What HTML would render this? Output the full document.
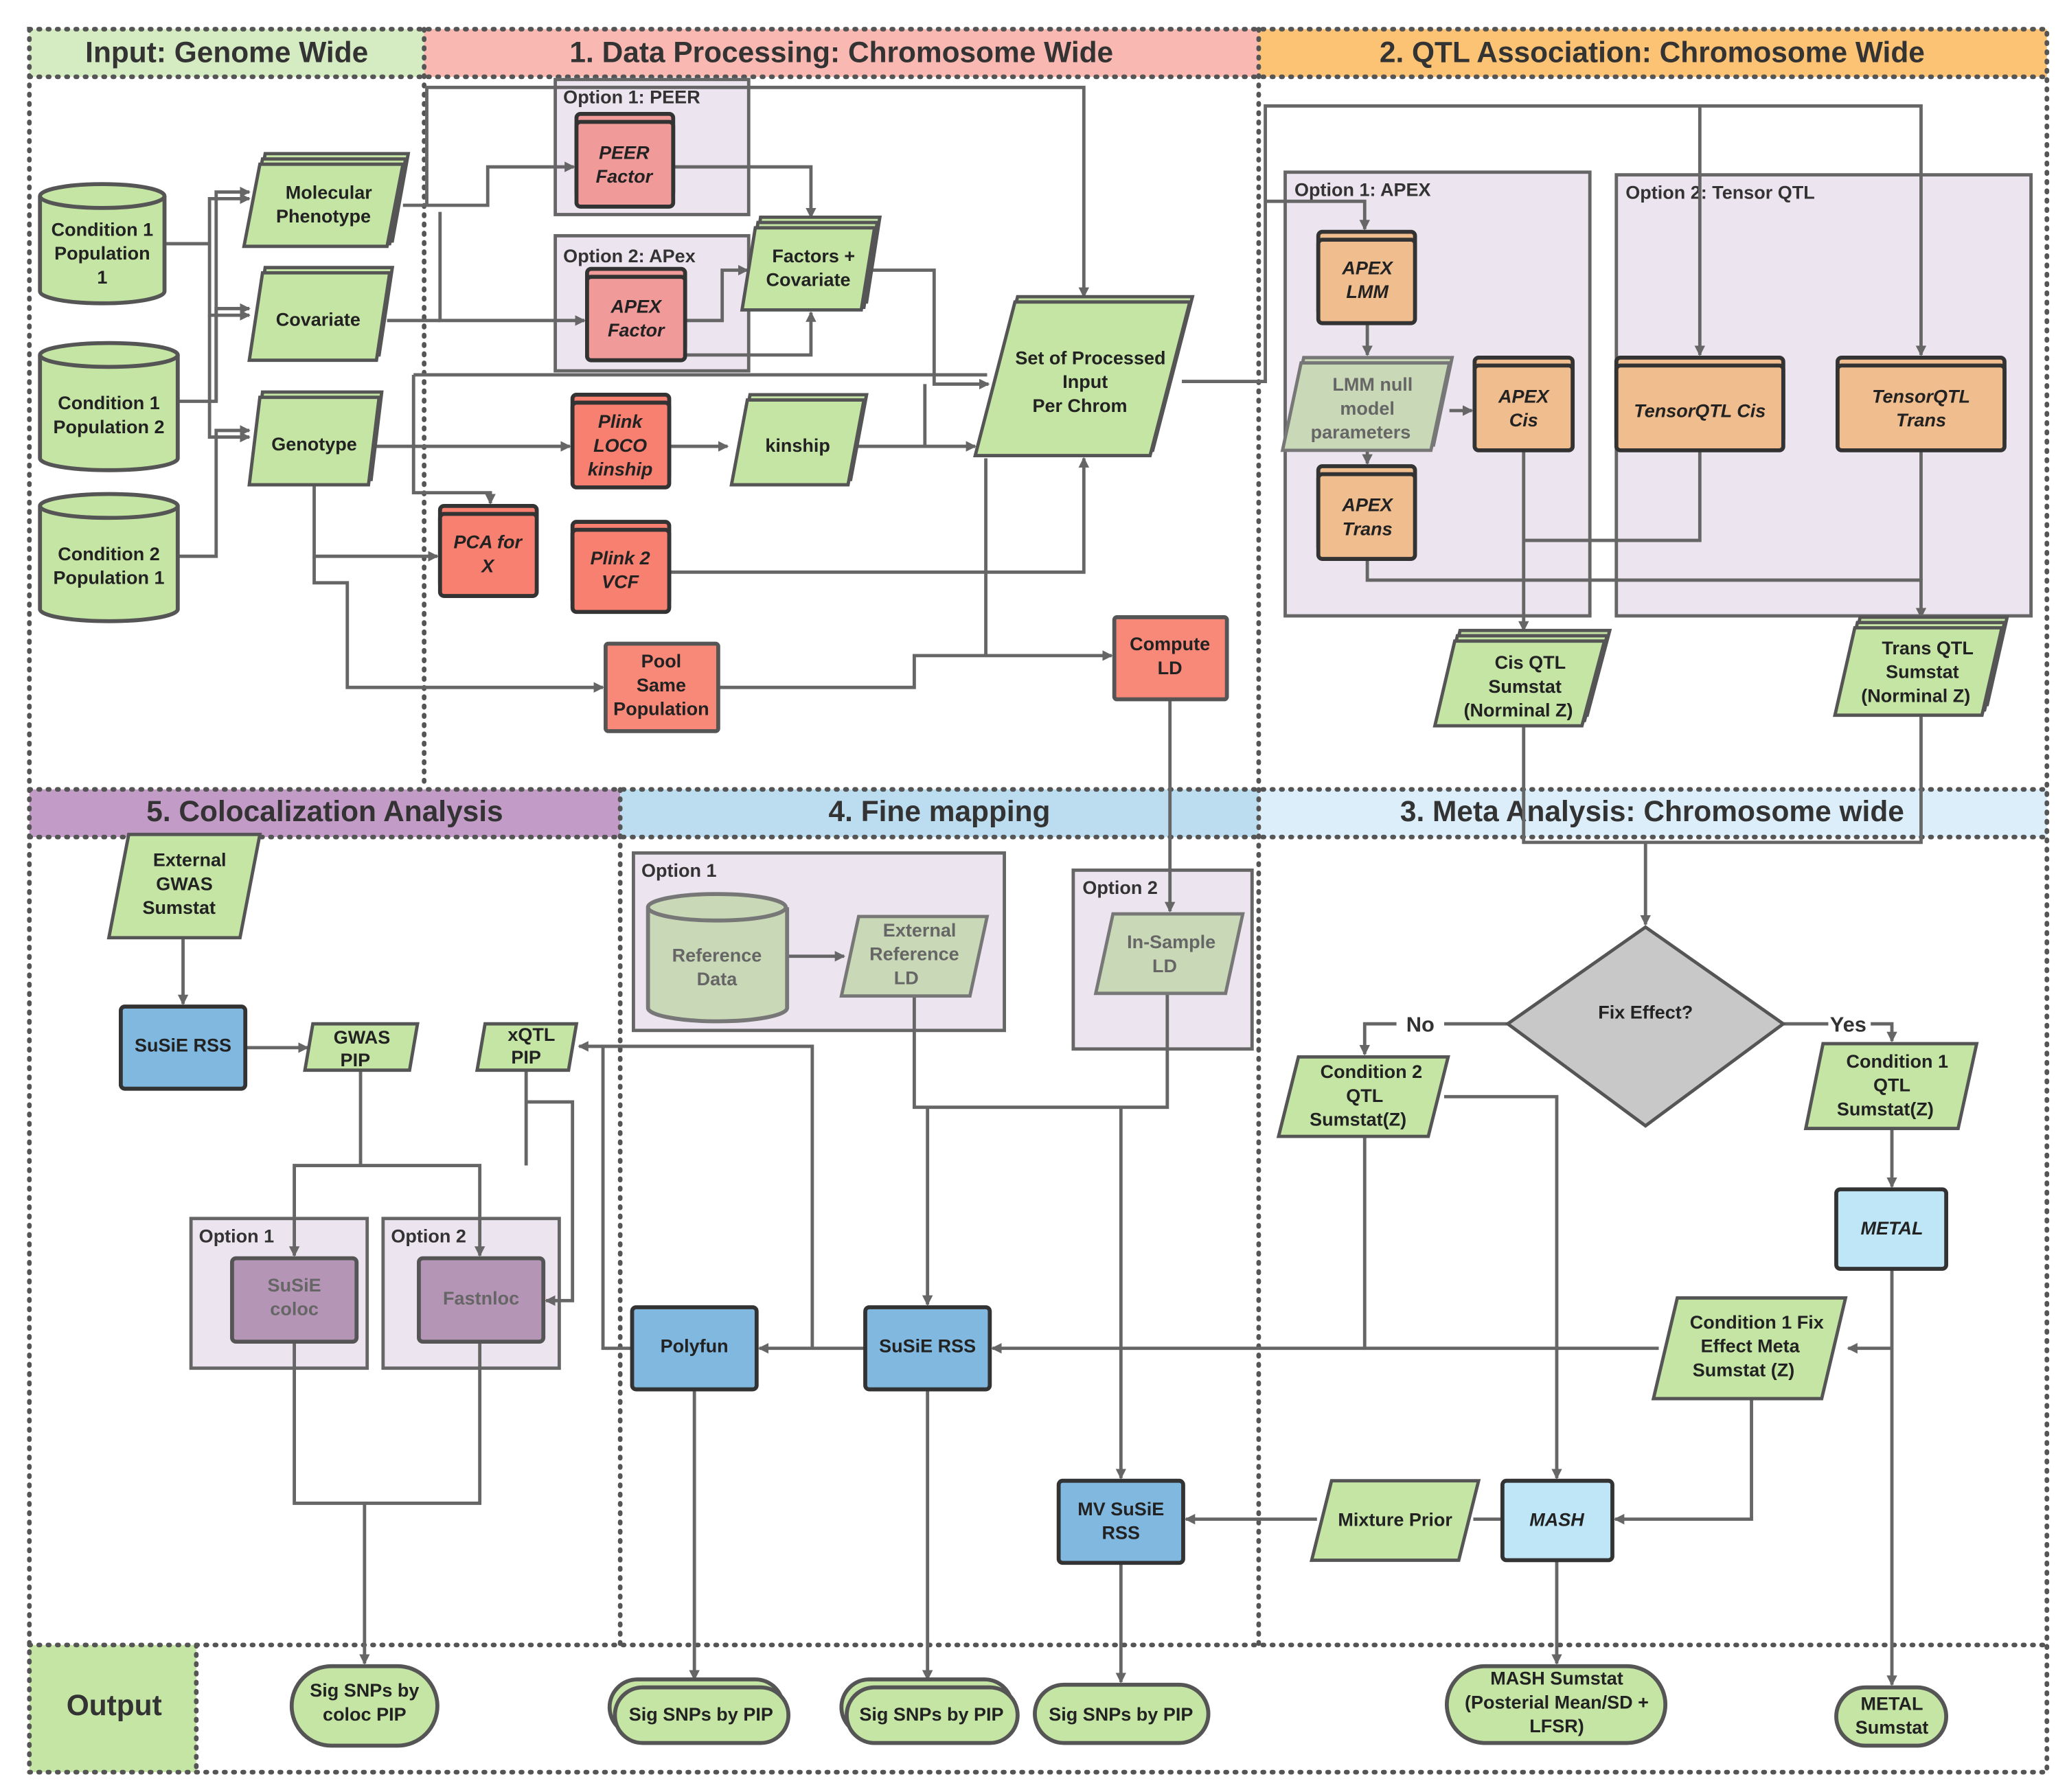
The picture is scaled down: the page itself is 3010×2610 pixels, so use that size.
<!DOCTYPE html>
<html><head><meta charset="utf-8"><style>html,body{margin:0;padding:0;background:#fff}svg{display:block}</style></head><body>
<svg xmlns="http://www.w3.org/2000/svg" width="3010" height="2610" viewBox="0 0 1560 1353" font-family="Liberation Sans, sans-serif" font-weight="bold">
<defs>
<marker id="a" markerWidth="8" markerHeight="8" refX="7" refY="4" orient="auto" markerUnits="userSpaceOnUse"><path d="M0,0 L8,4 L0,8 z" fill="#666"/></marker>
</defs>
<rect width="1560" height="1353" fill="#fff"/>
<!-- headers -->
<rect x="22" y="22" width="298" height="36" fill="#d5ecc2"/>
<rect x="320" y="22" width="630" height="36" fill="#f9b9b2"/>
<rect x="950" y="22" width="595" height="36" fill="#fdc374"/>
<rect x="22" y="596" width="446" height="36" fill="#c39bc7"/>
<rect x="468" y="596" width="482" height="36" fill="#bcdcf0"/>
<rect x="950" y="596" width="595" height="36" fill="#dbeef9"/>
<rect x="22" y="1242" width="126" height="96" fill="#c5e5a5"/>
<g font-size="22" fill="#333" text-anchor="middle">
<text x="171" y="47">Input: Genome Wide</text>
<text x="635" y="47">1. Data Processing: Chromosome Wide</text>
<text x="1247" y="47">2. QTL Association: Chromosome Wide</text>
<text x="245" y="620">5. Colocalization Analysis</text>
<text x="709" y="620">4. Fine mapping</text>
<text x="1247" y="620">3. Meta Analysis: Chromosome wide</text>
<text x="86" y="1295">Output</text>
</g>
<g fill="none" stroke="#555" stroke-width="3.5" stroke-dasharray="1 6" stroke-linecap="round">
<rect x="22" y="22" width="1523" height="1316"/>
<line x1="22" y1="58" x2="1545" y2="58"/>
<line x1="320" y1="22" x2="320" y2="590"/>
<line x1="950" y1="22" x2="950" y2="1242"/>
<line x1="22" y1="596" x2="1545" y2="596"/>
<line x1="22" y1="632" x2="1545" y2="632"/>
<line x1="468" y1="596" x2="468" y2="1242"/>
<line x1="22" y1="1242" x2="1545" y2="1242"/>
<line x1="148" y1="1242" x2="148" y2="1338"/>
</g>
<!-- option boxes -->
<g fill="#ece4ee" stroke="#666" stroke-width="2.5">
<rect x="419" y="60" width="146" height="102"/>
<rect x="419" y="178" width="146" height="102"/>
<rect x="970" y="130" width="230" height="335"/>
<rect x="1220" y="132" width="313" height="333"/>
<rect x="478" y="644" width="280" height="134"/>
<rect x="810" y="657" width="135" height="135"/>
<rect x="144" y="920" width="133" height="113"/>
<rect x="289" y="920" width="133" height="113"/>
</g>
<g font-size="14" fill="#333">
<text x="425" y="78">Option 1: PEER</text>
<text x="425" y="198">Option 2: APex</text>
<text x="977" y="148">Option 1: APEX</text>
<text x="1227" y="150">Option 2: Tensor QTL</text>
<text x="484" y="662">Option 1</text>
<text x="817" y="675">Option 2</text>
<text x="150" y="938">Option 1</text>
<text x="295" y="938">Option 2</text>
</g>
<!-- connectors -->
<g fill="none" stroke="#666" stroke-width="2.5">
<polyline points="124,184 158,184 158,150 188,150" marker-end="url(#a)"/>
<polyline points="158,184 158,238 188,238" marker-end="url(#a)"/>
<polyline points="158,238 158,330 188,330" marker-end="url(#a)"/>
<polyline points="134,303 163,303 163,145 188,145" marker-end="url(#a)"/>
<polyline points="163,303 163,233 188,233" marker-end="url(#a)"/>
<polyline points="134,420 163,420 163,325 188,325" marker-end="url(#a)"/>
<polyline points="304,155 368,155 368,126 433,126" marker-end="url(#a)"/>
<polyline points="322,155 322,66 818,66 818,224" marker-end="url(#a)"/>
<polyline points="332,160 332,242 441,242" marker-end="url(#a)"/>
<polyline points="292,242 332,242"/>
<polyline points="508,126 612,126 612,164" marker-end="url(#a)"/>
<polyline points="517,242 545,242 545,204 564,204" marker-end="url(#a)"/>
<polyline points="517,268 612,268 612,236" marker-end="url(#a)"/>
<polyline points="656,204 705,204 705,290 746,290" marker-end="url(#a)"/>
<polyline points="284,337 430,337" marker-end="url(#a)"/>
<polyline points="505,337 549,337" marker-end="url(#a)"/>
<polyline points="646,337 736,337" marker-end="url(#a)"/>
<polyline points="698,337 698,290"/>
<polyline points="312,283 745,283"/>
<polyline points="312,283 312,372 370,372 370,380" marker-end="url(#a)"/>
<polyline points="237,366 237,420 330,420" marker-end="url(#a)"/>
<polyline points="237,420 237,440 262,440 262,519 455,519" marker-end="url(#a)"/>
<polyline points="505,432 818,432 818,346" marker-end="url(#a)"/>
<polyline points="542,519 690,519 690,495 839,495" marker-end="url(#a)"/>
<polyline points="744,495 744,346"/>
<polyline points="883,528 883,688" marker-end="url(#a)"/>
<polyline points="892,288 955,288 955,80 1450,80 1450,268" marker-end="url(#a)"/>
<polyline points="1283,80 1283,268" marker-end="url(#a)"/>
<polyline points="955,152 1030,152 1030,173" marker-end="url(#a)"/>
<polyline points="1032,244 1032,268" marker-end="url(#a)"/>
<polyline points="1032,340 1032,350" marker-end="url(#a)"/>
<polyline points="1094,310 1111,310" marker-end="url(#a)"/>
<polyline points="1150,340 1150,476" marker-end="url(#a)"/>
<polyline points="1283,340 1283,408 1150,408"/>
<polyline points="1032,422 1032,438 1450,438 1450,466" marker-end="url(#a)"/>
<polyline points="1450,340 1450,438"/>
<polyline points="1150,548 1150,636 1450,636 1450,540"/>
<polyline points="1242,636 1242,698" marker-end="url(#a)"/>
<polyline points="1138,773 1090,773"/>
<polyline points="1054,773 1030,773 1030,796" marker-end="url(#a)"/>
<polyline points="1346,773 1380,773"/>
<polyline points="1412,773 1428,773 1428,786" marker-end="url(#a)"/>
<polyline points="1428,852 1428,896" marker-end="url(#a)"/>
<polyline points="1428,958 1428,1272" marker-end="url(#a)"/>
<polyline points="1428,1018 1395,1018" marker-end="url(#a)"/>
<polyline points="1030,858 1030,1018"/>
<polyline points="1090,828 1175,828 1175,1116" marker-end="url(#a)"/>
<polyline points="1252,1018 749,1018" marker-end="url(#a)"/>
<polyline points="1322,1056 1322,1147 1219,1147" marker-end="url(#a)"/>
<polyline points="1134,1147 1112,1147"/>
<polyline points="994,1147 895,1147" marker-end="url(#a)"/>
<polyline points="1175,1178 1175,1256" marker-end="url(#a)"/>
<polyline points="846,1180 846,1270" marker-end="url(#a)"/>
<polyline points="690,752 690,836 881,836 881,750"/>
<polyline points="700,836 700,985" marker-end="url(#a)"/>
<polyline points="846,836 846,1116" marker-end="url(#a)"/>
<polyline points="653,1018 573,1018" marker-end="url(#a)"/>
<polyline points="613,1018 613,790 437,790" marker-end="url(#a)"/>
<polyline points="477,1018 455,1018 455,790"/>
<polyline points="700,1049 700,1268" marker-end="url(#a)"/>
<polyline points="524,1049 524,1268" marker-end="url(#a)"/>
<polyline points="594,722 637,722" marker-end="url(#a)"/>
<polyline points="138,708 138,758" marker-end="url(#a)"/>
<polyline points="185,791 232,791" marker-end="url(#a)"/>
<polyline points="272,808 272,880 222,880 222,948" marker-end="url(#a)"/>
<polyline points="272,880 362,880 362,948" marker-end="url(#a)"/>
<polyline points="397,808 397,880"/>
<polyline points="397,832 432,832 432,982 412,982" marker-end="url(#a)"/>
<polyline points="222,1013 222,1135 362,1135 362,1013"/>
<polyline points="275,1135 275,1256" marker-end="url(#a)"/>
</g>
<g font-size="16" fill="#333" text-anchor="middle"><text x="1072" y="779">No</text><text x="1395" y="779">Yes</text></g>
<!-- cylinders -->
<g stroke="#555" stroke-width="3" fill="#c5e5a5">
<path d="M30,148 v72 a47,9 0 0 0 94,0 v-72"/><ellipse cx="77" cy="148" rx="47" ry="9"/>
<path d="M30,268 v78 a52,9 0 0 0 104,0 v-78"/><ellipse cx="82" cy="268" rx="52" ry="9"/>
<path d="M30,382 v78 a52,9 0 0 0 104,0 v-78"/><ellipse cx="82" cy="382" rx="52" ry="9"/>
</g>
<path d="M489,685 v76 a52,10 0 0 0 105,0 v-76" fill="#c9d8b6" stroke="#777" stroke-width="3"/><ellipse cx="541" cy="685" rx="52" ry="10" fill="#c9d8b6" stroke="#777" stroke-width="3"/>
<!-- parallelograms -->
<g stroke="#555" stroke-width="2.5" fill="#c5e5a5">
<polygon points="200,116 308,116 296,182 188,182"/><polygon points="198,120 306,120 294,184 186,184"/><polygon points="196,124 304,124 292,186 184,186"/>
<polygon points="200,202 296,202 286,268 190,268"/><polygon points="198,206 294,206 284,272 188,272"/>
<polygon points="198,296 288,296 280,362 190,362"/><polygon points="196,300 286,300 278,366 188,366"/>
<polygon points="574,164 664,164 654,228 564,228"/><polygon points="572,168 662,168 652,232 562,232"/><polygon points="570,172 660,172 650,234 560,234"/>
<polygon points="768,224 900,224 870,340 738,340"/><polygon points="766,228 898,228 868,344 736,344"/>
<polygon points="566,298 654,298 642,362 554,362"/><polygon points="564,302 652,302 640,366 552,366"/>
<polygon points="1102,476 1215,476 1198,540 1087,540"/><polygon points="1100,480 1213,480 1196,544 1085,544"/><polygon points="1098,484 1211,484 1194,548 1083,548"/>
<polygon points="1404,466 1515,466 1500,532 1389,532"/><polygon points="1402,470 1513,470 1498,536 1387,536"/><polygon points="1400,474 1511,474 1496,540 1385,540"/>
<polygon points="980,798 1093,798 1078,858 965,858"/>
<polygon points="1376,788 1492,788 1478,852 1363,852"/>
<polygon points="1266,980 1393,980 1375,1056 1248,1056"/>
<polygon points="1005,1118 1116,1118 1101,1178 990,1178"/>
<polygon points="97,630 196,630 181,708 82,708"/>
<polygon points="236,773 315,773 309,808 230,808"/>
<polygon points="366,773 435,773 429,808 360,808"/>
</g>
<g stroke="#777" stroke-width="2.5" fill="#c9d8b6">
<polygon points="984,270 1096,270 1082,336 970,336"/><polygon points="982,274 1094,274 1080,340 968,340"/>
<polygon points="648,692 745,692 732,752 635,752"/>
<polygon points="840,690 938,690 925,750 827,750"/>
</g>
<!-- rect nodes -->
<g stroke="#333" stroke-width="3">
<g fill="#f09a9a"><rect x="435" y="86" width="73" height="62" rx="3"/><rect x="435" y="92" width="73" height="64" rx="3"/>
<rect x="443" y="203" width="74" height="62" rx="3"/><rect x="443" y="209" width="74" height="63" rx="3"/></g>
<g fill="#f88070"><rect x="432" y="298" width="73" height="64" rx="3"/><rect x="432" y="304" width="73" height="64" rx="3"/>
<rect x="332" y="382" width="73" height="62" rx="3"/><rect x="332" y="388" width="73" height="62" rx="3"/>
<rect x="432" y="394" width="73" height="62" rx="3"/><rect x="432" y="400" width="73" height="62" rx="3"/></g>
<rect x="457" y="486" width="85" height="66" rx="2" fill="#f88878" stroke="#555"/>
<rect x="841" y="466" width="85" height="62" rx="2" fill="#f88878" stroke="#555"/>
<g fill="#f0bd8e"><rect x="995" y="175" width="73" height="63" rx="3"/><rect x="995" y="181" width="73" height="63" rx="3"/>
<rect x="1113" y="270" width="74" height="64" rx="3"/><rect x="1113" y="276" width="74" height="64" rx="3"/>
<rect x="995" y="352" width="73" height="64" rx="3"/><rect x="995" y="358" width="73" height="64" rx="3"/>
<rect x="1220" y="270" width="126" height="64" rx="3"/><rect x="1220" y="276" width="126" height="64" rx="3"/>
<rect x="1387" y="270" width="126" height="64" rx="3"/><rect x="1387" y="276" width="126" height="64" rx="3"/></g>
<g fill="#80b8e0"><rect x="91" y="760" width="94" height="62" rx="3"/><rect x="477" y="987" width="94" height="62" rx="3"/><rect x="653" y="987" width="94" height="62" rx="3"/><rect x="799" y="1118" width="94" height="62" rx="3"/></g>
<g fill="#bfe6f7"><rect x="1386" y="898" width="83" height="60" rx="3"/><rect x="1134" y="1118" width="83" height="60" rx="3"/></g>
<g fill="#b595b5" stroke="#555"><rect x="175" y="950" width="94" height="63" rx="3"/><rect x="316" y="950" width="94" height="63" rx="3"/></g>
</g>
<polygon points="1242,700 1346,773 1242,850 1138,773" fill="#c8c8c8" stroke="#555" stroke-width="2.5"/>
<!-- outputs -->
<g stroke="#555" stroke-width="3" fill="#c5e5a5">
<rect x="220" y="1258" width="110" height="60" rx="30"/>
<rect x="460" y="1268" width="131" height="42" rx="21"/><rect x="464" y="1274" width="131" height="42" rx="21"/>
<rect x="635" y="1268" width="129" height="42" rx="21"/><rect x="639" y="1274" width="129" height="42" rx="21"/>
<rect x="781" y="1272" width="131" height="44" rx="22"/>
<rect x="1092" y="1258" width="165" height="58" rx="29"/>
<rect x="1386" y="1274" width="83" height="44" rx="22"/>
</g>
<!-- labels -->
<g font-size="14" fill="#222" text-anchor="middle">
<text x="77" y="178">Condition 1</text><text x="77" y="196">Population</text><text x="77" y="214">1</text>
<text x="82" y="309">Condition 1</text><text x="82" y="327">Population 2</text>
<text x="82" y="423">Condition 2</text><text x="82" y="441">Population 1</text>
<text x="248" y="150">Molecular</text><text x="244" y="168">Phenotype</text>
<text x="240" y="246">Covariate</text>
<text x="237" y="340">Genotype</text>
<text x="614" y="198">Factors +</text><text x="610" y="216">Covariate</text>
<text x="823" y="275">Set of Processed</text><text x="819" y="293">Input</text><text x="815" y="311">Per Chrom</text>
<text x="602" y="341">kinship</text>
<text x="499" y="504">Pool</text><text x="499" y="522">Same</text><text x="499" y="540">Population</text>
<text x="883" y="491">Compute</text><text x="883" y="509">LD</text>
<text x="1155" y="505">Cis QTL</text><text x="1151" y="523">Sumstat</text><text x="1146" y="541">(Norminal Z)</text>
<text x="1455" y="494">Trans QTL</text><text x="1451" y="512">Sumstat</text><text x="1446" y="530">(Norminal Z)</text>
<text x="1242" y="769">Fix Effect?</text>
<text x="1035" y="814">Condition 2</text><text x="1030" y="832">QTL</text><text x="1025" y="850">Sumstat(Z)</text>
<text x="1432" y="806">Condition 1</text><text x="1428" y="824">QTL</text><text x="1423" y="842">Sumstat(Z)</text>
<text x="1326" y="1003">Condition 1 Fix</text><text x="1321" y="1021">Effect Meta</text><text x="1316" y="1039">Sumstat (Z)</text>
<text x="1053" y="1152">Mixture Prior</text>
<text x="1175" y="1152" font-style="italic">MASH</text>
<text x="1428" y="932" font-style="italic">METAL</text>
<text x="846" y="1144">MV SuSiE</text><text x="846" y="1162">RSS</text>
<text x="700" y="1021">SuSiE RSS</text>
<text x="524" y="1021">Polyfun</text>
<text x="138" y="794">SuSiE RSS</text>
<text x="143" y="654">External</text><text x="139" y="672">GWAS</text><text x="135" y="690">Sumstat</text>
<text x="273" y="788">GWAS</text><text x="268" y="805">PIP</text>
<text x="401" y="786">xQTL</text><text x="397" y="803">PIP</text>
<text x="275" y="1281">Sig SNPs by</text><text x="275" y="1299">coloc PIP</text>
<text x="529" y="1299">Sig SNPs by PIP</text>
<text x="703" y="1299">Sig SNPs by PIP</text>
<text x="846" y="1299">Sig SNPs by PIP</text>
<text x="1175" y="1272">MASH Sumstat</text><text x="1175" y="1290">(Posterial Mean/SD +</text><text x="1175" y="1308">LFSR)</text>
<text x="1428" y="1291">METAL</text><text x="1428" y="1309">Sumstat</text>
</g>
<g font-size="14" fill="#222" text-anchor="middle" font-style="italic">
<text x="471" y="120">PEER</text><text x="471" y="138">Factor</text>
<text x="480" y="236">APEX</text><text x="480" y="254">Factor</text>
<text x="468" y="323">Plink</text><text x="468" y="341">LOCO</text><text x="468" y="359">kinship</text>
<text x="368" y="414">PCA for</text><text x="368" y="432">X</text>
<text x="468" y="426">Plink 2</text><text x="468" y="444">VCF</text>
<text x="1032" y="207">APEX</text><text x="1032" y="225">LMM</text>
<text x="1150" y="304">APEX</text><text x="1150" y="322">Cis</text>
<text x="1032" y="386">APEX</text><text x="1032" y="404">Trans</text>
<text x="1283" y="315">TensorQTL Cis</text>
<text x="1450" y="304">TensorQTL</text><text x="1450" y="322">Trans</text>
</g>
<g font-size="14" fill="#666" text-anchor="middle">
<text x="1036" y="295">LMM null</text><text x="1032" y="313">model</text><text x="1027" y="331">parameters</text>
<text x="541" y="726">Reference</text><text x="541" y="744">Data</text>
<text x="694" y="707">External</text><text x="690" y="725">Reference</text><text x="684" y="743">LD</text>
<text x="884" y="716">In-Sample</text><text x="879" y="734">LD</text>
<text x="222" y="975">SuSiE</text><text x="222" y="993">coloc</text>
<text x="363" y="985">Fastnloc</text>
</g>
</svg>
</body></html>
